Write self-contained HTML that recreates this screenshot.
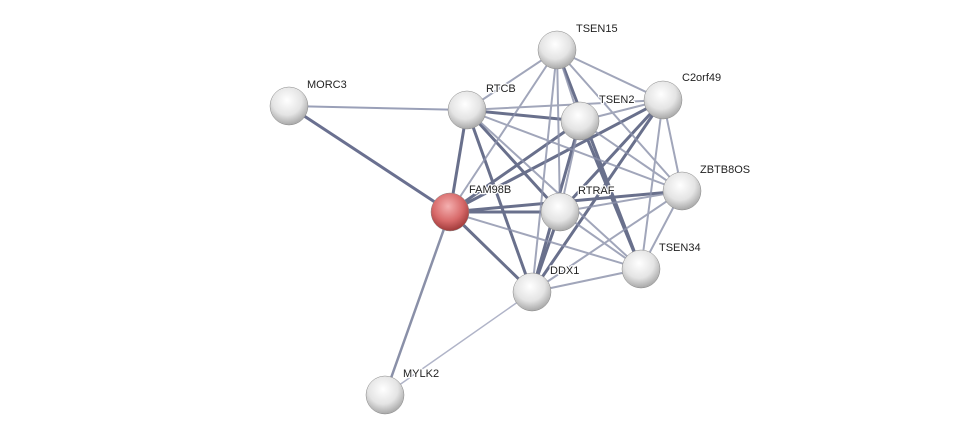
<!DOCTYPE html>
<html><head><meta charset="utf-8"><style>
html,body{margin:0;padding:0;background:#fff;width:975px;height:440px;overflow:hidden}
text{font-family:"Liberation Sans",sans-serif;font-size:11px;fill:#222;stroke:#fff;stroke-width:2.5px;paint-order:stroke;stroke-linejoin:round}
</style></head><body>
<svg width="975" height="440" viewBox="0 0 975 440" xmlns="http://www.w3.org/2000/svg">
<defs>
<radialGradient id="g" cx="45%" cy="35%" r="65%"><stop offset="0" stop-color="#fff"/><stop offset="0.6" stop-color="#e4e4e4"/><stop offset="1" stop-color="#a8a8a8"/></radialGradient>
<radialGradient id="r" cx="45%" cy="35%" r="65%"><stop offset="0" stop-color="#f4b0b0"/><stop offset="0.6" stop-color="#d86a6a"/><stop offset="1" stop-color="#a03a3a"/></radialGradient>
</defs>
<g stroke-linecap="round">
<line x1="289" y1="106" x2="467" y2="110" stroke="#9aa0b8" stroke-width="2"/>
<line x1="289" y1="106" x2="450" y2="212" stroke="#6a7090" stroke-width="3"/>
<line x1="450" y1="212" x2="385" y2="395" stroke="#8a90a8" stroke-width="2.5"/>
<line x1="532" y1="292" x2="385" y2="395" stroke="#b0b4c8" stroke-width="1.5"/>
<g stroke="#505878" stroke-width="3" opacity="0.85">
<line x1="450" y1="212" x2="467" y2="110"/><line x1="450" y1="212" x2="580" y2="121"/>
<line x1="450" y1="212" x2="663" y2="100"/><line x1="450" y1="212" x2="560" y2="212"/>
<line x1="450" y1="212" x2="682" y2="191"/><line x1="450" y1="212" x2="532" y2="292"/>
<line x1="467" y1="110" x2="580" y2="121"/><line x1="467" y1="110" x2="560" y2="212"/>
<line x1="467" y1="110" x2="532" y2="292"/><line x1="557" y1="50" x2="641" y2="269"/>
<line x1="580" y1="121" x2="641" y2="269"/><line x1="663" y1="100" x2="532" y2="292"/>
<line x1="560" y1="212" x2="532" y2="292"/><line x1="580" y1="121" x2="532" y2="292"/>
<line x1="663" y1="100" x2="560" y2="212"/>
</g>
<g stroke="#8a90aa" stroke-width="2" opacity="0.8">
<line x1="450" y1="212" x2="641" y2="269"/><line x1="450" y1="212" x2="557" y2="50"/>
<line x1="467" y1="110" x2="557" y2="50"/><line x1="467" y1="110" x2="663" y2="100"/>
<line x1="467" y1="110" x2="682" y2="191"/><line x1="467" y1="110" x2="641" y2="269"/>
<line x1="557" y1="50" x2="580" y2="121"/><line x1="557" y1="50" x2="663" y2="100"/>
<line x1="557" y1="50" x2="682" y2="191"/><line x1="557" y1="50" x2="560" y2="212"/>
<line x1="557" y1="50" x2="532" y2="292"/><line x1="580" y1="121" x2="663" y2="100"/>
<line x1="580" y1="121" x2="682" y2="191"/><line x1="580" y1="121" x2="560" y2="212"/>
<line x1="663" y1="100" x2="682" y2="191"/><line x1="663" y1="100" x2="641" y2="269"/>
<line x1="560" y1="212" x2="682" y2="191"/><line x1="560" y1="212" x2="641" y2="269"/>
<line x1="532" y1="292" x2="641" y2="269"/><line x1="532" y1="292" x2="682" y2="191"/>
<line x1="682" y1="191" x2="641" y2="269"/>
</g>
</g>
<g stroke="#888" stroke-width="0.5">
<circle cx="557" cy="50" r="19" fill="url(#g)"/>
<circle cx="663" cy="100" r="19" fill="url(#g)"/>
<circle cx="289" cy="106" r="19" fill="url(#g)"/>
<circle cx="467" cy="110" r="19" fill="url(#g)"/>
<circle cx="580" cy="121" r="19" fill="url(#g)"/>
<circle cx="682" cy="191" r="19" fill="url(#g)"/>
<circle cx="450" cy="212" r="19" fill="url(#r)"/>
<circle cx="560" cy="212" r="19" fill="url(#g)"/>
<circle cx="641" cy="269" r="19" fill="url(#g)"/>
<circle cx="532" cy="292" r="19" fill="url(#g)"/>
<circle cx="385" cy="395" r="19" fill="url(#g)"/>
</g>
<text x="576" y="32">TSEN15</text>
<text x="682" y="81">C2orf49</text>
<text x="307" y="88">MORC3</text>
<text x="486" y="92">RTCB</text>
<text x="599" y="103">TSEN2</text>
<text x="700" y="173">ZBTB8OS</text>
<text x="469" y="193">FAM98B</text>
<text x="578" y="194">RTRAF</text>
<text x="659" y="251">TSEN34</text>
<text x="550" y="274">DDX1</text>
<text x="403" y="377">MYLK2</text>
</svg>
</body></html>
